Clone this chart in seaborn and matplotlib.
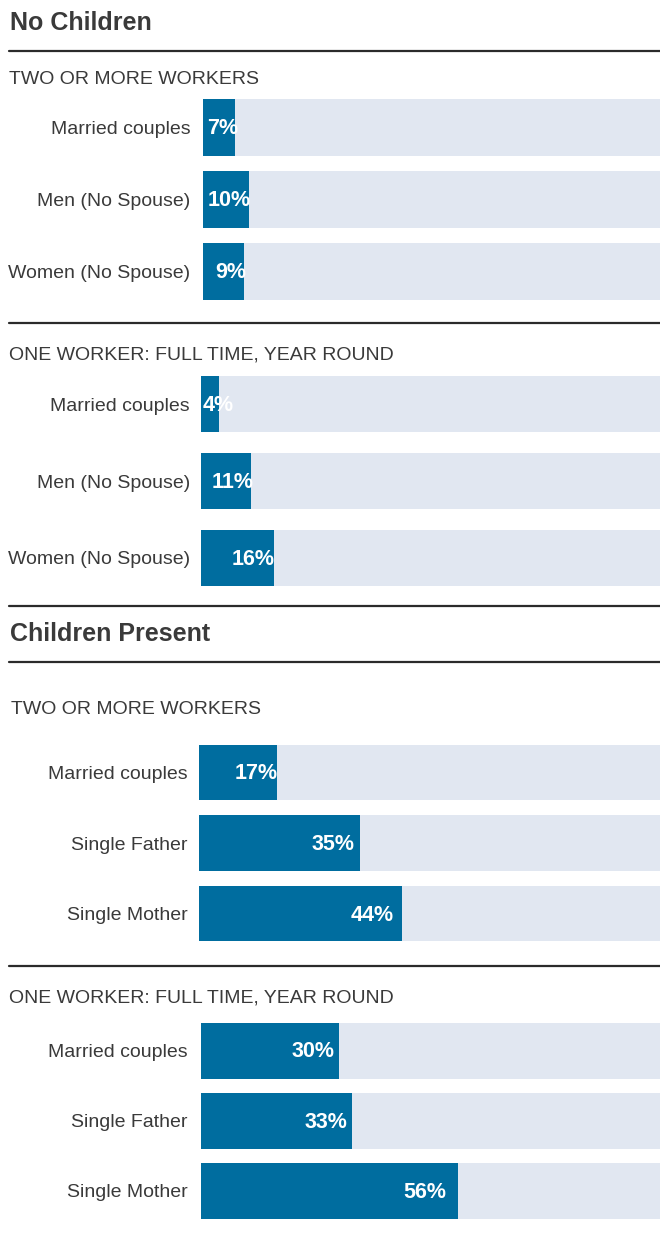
import matplotlib
matplotlib.use("Agg")
import matplotlib.pyplot as plt
from matplotlib.lines import Line2D
import seaborn as sns
import pandas as pd

# data
nc_two_labels = ["Married couples", "Men (No Spouse)", "Women (No Spouse)"]
nc_two_values = [7, 10, 9]
nc_one_labels = ["Married couples", "Men (No Spouse)", "Women (No Spouse)"]
nc_one_values = [4, 11, 16]
cp_two_labels = ["Married couples", "Single Father", "Single Mother"]
cp_two_values = [17, 35, 44]
cp_one_labels = ["Married couples", "Single Father", "Single Mother"]
cp_one_values = [30, 33, 56]

section_titles = ["No Children", "Children Present"]
group_titles = ["TWO OR MORE WORKERS", "ONE WORKER: FULL TIME, YEAR ROUND",
                "TWO OR MORE WORKERS", "ONE WORKER: FULL TIME, YEAR ROUND"]

W, H = 660, 1241
BLUE = "#006d9f"
TRACK = "#e1e7f1"
DARK = "#3a3a3a"

sns.set_theme(style="white")
plt.rcParams['font.family'] = ['Liberation Sans', 'DejaVu Sans']

fig = plt.figure(figsize=(W / 100, H / 100), dpi=100)
fig.patch.set_facecolor("white")


def fx(px):
    return px / W


def fy(py):
    return 1 - py / H


def hline(y, x0=9, x1=660, lw=1.6):
    fig.add_artist(Line2D([fx(x0), fx(x1)], [fy(y), fy(y)], transform=fig.transFigure,
                          color="#2b2b2b", linewidth=lw))


def group(labels, values, left, top, bottom, bar_w, pad):
    ax = fig.add_axes([fx(left), fy(bottom), fx(660) - fx(left), fy(top) - fy(bottom)])
    df = pd.DataFrame({"label": labels, "value": values, "track": [100] * len(values)})
    sns.barplot(data=df, y="label", x="track", color=TRACK, width=bar_w, ax=ax,
                saturation=1, orient="h", linewidth=0)
    sns.barplot(data=df, y="label", x="value", color=BLUE, width=bar_w, ax=ax,
                saturation=1, orient="h", linewidth=0)
    ax.set_xlim(0, 100)
    ax.set_xlabel("")
    ax.set_ylabel("")
    ax.set_xticks([])
    for s in ax.spines.values():
        s.set_visible(False)
    ax.tick_params(axis="y", length=0, pad=pad, labelsize=14, labelcolor=DARK)
    px_per_unit = (660 - left) / 100
    for i, v in enumerate(values):
        if v < 6:
            ax.text(0.3, i + 0.02, f"{v}%", ha="left", va="center", color="white",
                    fontsize=15.5, fontweight="bold")
        else:
            off = (0.3 * v - 5) / px_per_unit
            ax.text(v - off, i + 0.02, f"{v}%", ha="right", va="center", color="white",
                    fontsize=15.5, fontweight="bold")
    return ax


# section 1
fig.text(fx(10), fy(23), section_titles[0], fontsize=18, fontweight="bold",
         color=DARK, va="center", ha="left")
hline(51)
fig.text(fx(9), fy(80), group_titles[0], fontsize=14, color=DARK, va="center")
group(nc_two_labels, nc_two_values, 203, 91.5, 307.5, 0.79, 9)
hline(323)
fig.text(fx(9), fy(355), group_titles[1], fontsize=14, color=DARK, va="center")
group(nc_one_labels, nc_one_values, 201, 366, 596, 0.73, 8)
hline(606)

# section 2
fig.text(fx(10), fy(634), section_titles[1], fontsize=18, fontweight="bold",
         color=DARK, va="center", ha="left")
hline(662)
fig.text(fx(11), fy(710), group_titles[2], fontsize=14, color=DARK, va="center")
group(cp_two_labels, cp_two_values, 199, 737, 949, 0.78, 8)
hline(966)
fig.text(fx(9), fy(998), group_titles[3], fontsize=14, color=DARK, va="center")
group(cp_one_labels, cp_one_values, 201, 1015.5, 1226, 0.8, 9.5)

fig.savefig("out.png", dpi=100, facecolor="white")
